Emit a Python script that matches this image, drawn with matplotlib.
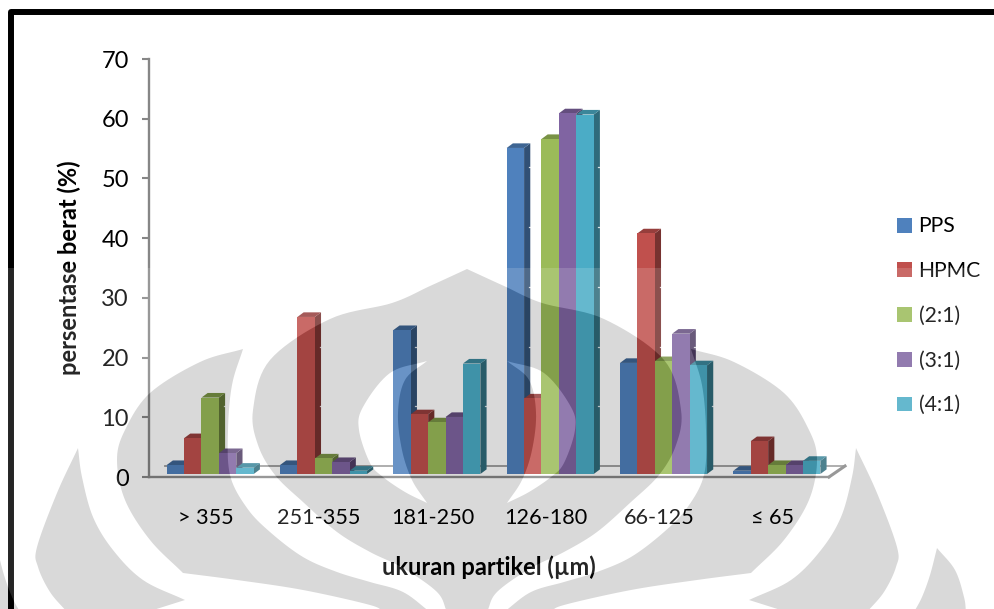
import numpy as np
import matplotlib
matplotlib.use('Agg')
import matplotlib.pyplot as plt
from matplotlib.patches import Patch, PathPatch
from matplotlib.path import Path
from matplotlib.lines import Line2D
from matplotlib.transforms import Affine2D

W, H = 994, 609
plt.rcParams['font.family'] = ['Lato', 'DejaVu Sans']

categories = ['> 355', '251-355', '181-250', '126-180', '66-125', '≤ 65']
series_names = ['PPS', 'HPMC', '(2:1)', '(3:1)', '(4:1)']
pps = [1.5, 1.5, 24.1, 54.6, 18.6, 0.55]
hpmc = [6.0, 26.3, 10.0, 12.65, 40.3, 5.5]
ratio_2_1 = [12.8, 2.6, 8.65, 56.1, 18.9, 1.5]
ratio_3_1 = [3.5, 2.0, 9.55, 60.4, 23.5, 1.5]
ratio_4_1 = [1.05, 0.55, 18.5, 60.2, 18.2, 2.2]
series = [pps, hpmc, ratio_2_1, ratio_3_1, ratio_4_1]
colors = ['#4F81BD', '#C0504D', '#9BBB59', '#8064A2', '#4BACC6']
yticks = [0, 10, 20, 30, 40, 50, 60, 70]

AXIS = '#868686'
PX_X = 1 / 113.3   # category units per pixel
PX_Y = 10 / 59.7   # percent per pixel
bar_w = 17.4 * PX_X
dx, dy = 6.2 * PX_X, 4.6 * PX_Y
base = 3 * PX_Y            # bars stand a little behind the front edge of the floor
floor_dx, floor_dy = 16 * PX_X, 11 * PX_Y


def shade(c, f):
    r, g, b = matplotlib.colors.to_rgb(c)
    return (r * f, g * f, b * f)


fig = plt.figure(figsize=(W / 100, H / 100), dpi=100, facecolor='white')
ax = fig.add_axes([149 / W, (H - 477) / H, 680 / W, 418 / H], zorder=1)
ax.set_xlim(0, 6)
ax.set_ylim(0, 70)
ax.patch.set_visible(False)
for s in ['top', 'right']:
    ax.spines[s].set_visible(False)
for s in ['left', 'bottom']:
    ax.spines[s].set_color(AXIS)
    ax.spines[s].set_linewidth(1.7)

# floor of the 3d box, only its back and right edges are drawn
ax.plot([floor_dx, 6 + floor_dx], [floor_dy, floor_dy], color='#9a9a9a', lw=1.3, clip_on=False, zorder=1)
ax.plot([6, 6 + floor_dx], [0, floor_dy], color=AXIS, lw=2.2, clip_on=False, zorder=1.5)

# 3d columns, painted left to right so each one covers the side of the previous
z = 2
for k in range(len(categories)):
    for j, vals in enumerate(series):
        x0 = k + 0.156 + j * bar_w
        x1 = x0 + bar_w
        top = vals[k] + base
        c = colors[j]
        ax.fill([x1, x1 + dx, x1 + dx, x1], [base, base + dy, top + dy, top],
                color=shade(c, 0.62), lw=0, clip_on=False, zorder=z)
        ax.fill([x0, x1, x1 + dx, x0 + dx], [top, top, top + dy, top + dy],
                color=shade(c, 0.78), lw=0, clip_on=False, zorder=z)
        ax.bar(x0, vals[k], width=bar_w, bottom=base, align='edge', color=c, lw=0,
               clip_on=False, zorder=z + 0.5)
        # little notches where the hidden wall gridlines meet the column
        for t in yticks[1:]:
            level = t + floor_dy
            if level < top + dy - 0.5:
                ax.plot([x1 + dx - 1.5 * PX_X, x1 + dx + 1.5 * PX_X], [level, level],
                        color='white', lw=0.9, alpha=0.8, clip_on=False, zorder=z + 0.1)
        z += 1

ax.set_xticks(np.arange(len(categories)) + 0.5)
ax.set_xticklabels(categories, fontsize=15.6)
ax.set_yticks(yticks)
ax.tick_params(axis='x', length=0, pad=22)
ax.tick_params(axis='y', length=5, width=1.5, color=AXIS, pad=9.5, labelsize=17)
ax.set_xlabel('ukuran partikel (µm)', fontsize=17, fontweight='bold')
ax.xaxis.set_label_coords(0.5, -0.188)
ax.set_ylabel('persentase berat (%)', fontsize=17, fontweight='bold')
ax.yaxis.set_label_coords(-0.1, 0.5)

handles = [Patch(color=c, lw=0) for c in colors]
fig.legend(handles, series_names, loc='upper left', bbox_to_anchor=(897 / W, 1 - 216.5 / H),
           frameon=False, fontsize=15.2, labelspacing=1.17, handlelength=0.72, handleheight=0.7,
           handletextpad=0.3, borderpad=0, borderaxespad=0)

# page frame
px = Affine2D().scale(1, -1).translate(0, H)
fig.add_artist(Line2D([11.3, 11.3, 1000], [620, 12.4, 12.4], color='black', lw=4.3,
                      solid_joinstyle='round', transform=px, zorder=5))


# faded logo laid over the lower part of the page
def curve(pts, n=10):
    p = np.array(pts, float)
    p = np.vstack([2 * p[0] - p[1], p, 2 * p[-1] - p[-2]])
    out = []
    for i in range(1, len(p) - 2):
        for t in np.linspace(0, 1, n, endpoint=False):
            out.append(0.5 * (2 * p[i] + (p[i + 1] - p[i - 1]) * t
                              + (2 * p[i - 1] - 5 * p[i] + 4 * p[i + 1] - p[i + 2]) * t ** 2
                              + (3 * p[i] - p[i - 1] - 3 * p[i + 1] + p[i + 2]) * t ** 3))
    out.append(p[-2])
    return np.array(out)


def outline(*edges):
    return np.vstack([curve(e) for e in edges])


def mirror(xy):
    return np.column_stack([934 - xy[:, 0], xy[:, 1]])


def oriented(xy, ccw):
    area = np.sum(xy[:-1, 0] * xy[1:, 1] - xy[1:, 0] * xy[:-1, 1])
    return xy if (area > 0) == ccw else xy[::-1]


body_edge = curve([(467, 269), (430, 286), (392, 303), (330, 319), (270, 360), (253, 410), (258, 445),
                   (275, 475), (303, 502), (337, 532), (370, 552), (403, 568), (437, 592), (447, 612)])
body = np.vstack([body_edge, mirror(body_edge)[::-1]])
crescent = outline([(427, 361), (390, 373), (363, 407), (359, 430), (370, 463), (383, 477), (405, 492), (427, 503)],
                   [(427, 503), (412, 480), (402, 450), (398, 413), (405, 380), (427, 361)])
wing = outline([(243, 349), (200, 362), (150, 393), (125, 430), (117, 460), (125, 500), (150, 540), (183, 573)],
               [(183, 573), (237, 580), (303, 590), (370, 605), (383, 612)],
               [(383, 612), (430, 612)],
               [(430, 612), (403, 592), (370, 582), (337, 572), (303, 557), (270, 532), (247, 508),
                (230, 475), (228, 430), (232, 385), (243, 349)])
petal = outline([(78, 448), (57, 493), (37, 547), (38, 567), (50, 592), (67, 612)],
                [(67, 612), (147, 612)], [(147, 612), (185, 600)],
                [(185, 600), (143, 580), (113, 550), (93, 517), (82, 477), (78, 448)])
tip = outline([(937, 548), (955, 570), (964, 597), (966, 612)], [(966, 612), (914, 612)],
              [(914, 612), (922, 597), (930, 575), (937, 548)])

solid = [body, wing, mirror(wing), petal, mirror(petal), tip, mirror(tip)]
holes = [crescent, mirror(crescent)]
logo_parts = [oriented(s, True) for s in solid] + [oriented(s, False) for s in holes]
logo = Path.make_compound_path(*[Path(s, closed=False) for s in logo_parts])
page = oriented(np.array([(-60, 268), (1060, 268), (1060, 700), (-60, 700), (-60, 268)], float), False)
veil = Path.make_compound_path(Path(page), logo)

fig.add_artist(PathPatch(veil, facecolor='white', alpha=0.15, lw=0, transform=px, zorder=10))
fig.add_artist(PathPatch(logo, facecolor='black', alpha=0.15, lw=0, transform=px, zorder=10))

fig.savefig('out.png', dpi=100)
